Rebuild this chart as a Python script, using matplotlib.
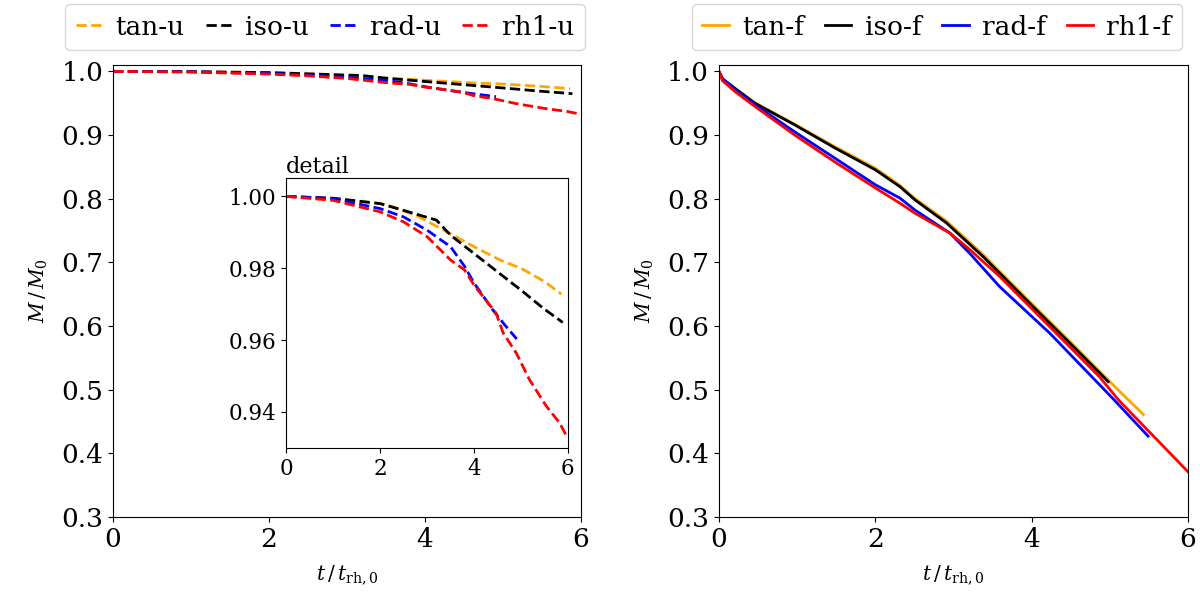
import matplotlib
matplotlib.use('Agg')
import matplotlib.pyplot as plt
import numpy as np

plt.rcParams['font.family'] = 'serif'
plt.rcParams['font.serif'] = ['DejaVu Serif']
plt.rcParams['mathtext.fontset'] = 'dejavuserif'

# unbound (u) runs
tan_u_t = [0, 1, 2, 2.3, 2.8, 3.3, 4, 4.6, 5, 5.5, 5.86]
tan_u_m = [1.0, 0.9994, 0.998, 0.997, 0.9945, 0.991, 0.986, 0.982, 0.980, 0.9763, 0.9728]
iso_u_t = [0, 1, 2, 2.5, 3.2, 3.5, 4, 4.5, 5.04, 5.47, 5.89]
iso_u_m = [1.0, 0.9995, 0.998, 0.9961, 0.9934, 0.9892, 0.9841, 0.979, 0.9735, 0.9689, 0.9649]
rad_u_t = [0, 1, 2, 2.5, 3, 3.5, 3.8, 4, 4.4, 4.65, 4.91]
rad_u_m = [1.0, 0.9994, 0.9966, 0.9943, 0.9906, 0.986, 0.9805, 0.9759, 0.9684, 0.9643, 0.9603]
rh1_u_t = [0, 1, 2, 2.5, 3, 3.5, 3.8, 4, 4.47, 4.62, 4.9, 5.18, 5.54, 5.82, 5.97]
rh1_u_m = [1.0, 0.9989, 0.9957, 0.9929, 0.9888, 0.9823, 0.9795, 0.9753, 0.9675, 0.962, 0.9564, 0.949, 0.9416, 0.937, 0.9333]

# field (f) runs
tan_f_t = [0, 0.05, 0.2, 0.46, 0.97, 1.48, 2.0, 2.315, 2.51, 2.91, 3.38, 4.02, 4.53, 4.98, 5.22, 5.43]
tan_f_m = [1.0, 0.985, 0.973, 0.951, 0.917, 0.882, 0.848, 0.821, 0.800, 0.765, 0.712, 0.633, 0.571, 0.515, 0.486, 0.461]
iso_f_t = [0, 0.05, 0.2, 0.46, 0.97, 1.48, 2.0, 2.315, 2.51, 2.91, 3.38, 4.02, 4.53, 4.98]
iso_f_m = [1.0, 0.988, 0.974, 0.950, 0.916, 0.880, 0.8455, 0.819, 0.798, 0.762, 0.709, 0.630, 0.568, 0.5126]
rad_f_t = [0, 0.05, 0.2, 0.46, 0.97, 1.48, 2.0, 2.315, 2.51, 2.955, 3.21, 3.59, 4.23, 5.04, 5.49]
rad_f_m = [1.0, 0.988, 0.972, 0.948, 0.905, 0.864, 0.822, 0.801, 0.782, 0.746, 0.714, 0.662, 0.589, 0.486, 0.427]
rh1_f_t = [0, 0.05, 0.2, 0.46, 0.97, 1.48, 2.0, 2.315, 2.51, 2.955, 3.21, 3.59, 4.23, 4.87, 5.11, 6.0]
rh1_f_m = [1.0, 0.985, 0.969, 0.945, 0.900, 0.858, 0.817, 0.793, 0.777, 0.746, 0.720, 0.678, 0.599, 0.520, 0.484, 0.371]

colors = ['orange', 'black', 'blue', 'red']
u_runs = [(tan_u_t, tan_u_m, 'tan-u'), (iso_u_t, iso_u_m, 'iso-u'),
          (rad_u_t, rad_u_m, 'rad-u'), (rh1_u_t, rh1_u_m, 'rh1-u')]
f_runs = [(tan_f_t, tan_f_m, 'tan-f'), (iso_f_t, iso_f_m, 'iso-f'),
          (rad_f_t, rad_f_m, 'rad-f'), (rh1_f_t, rh1_f_m, 'rh1-f')]

fig = plt.figure(figsize=(12, 5.94), dpi=100)
ax1 = fig.add_axes([0.0942, 0.1296, 0.39, 0.761])
ax2 = fig.add_axes([0.599, 0.1296, 0.391, 0.761])

for (t, m, lab), c in zip(u_runs, colors):
    ax1.plot(t, m, '--', color=c, lw=2, label=lab)
for (t, m, lab), c in zip(f_runs, colors):
    ax2.plot(t, m, '-', color=c, lw=2, label=lab)

for ax, cx in [(ax1, 0.453), (ax2, 0.465)]:
    ax.set_xlim(0, 6)
    ax.set_ylim(0.3, 1.01)
    ax.set_xticks([0, 2, 4, 6])
    ax.set_yticks([0.3, 0.4, 0.5, 0.6, 0.7, 0.8, 0.9, 1.0])
    ax.tick_params(labelsize=19)
    ax.set_xlabel(r'$t\,/\,t_{\rm rh,0}$', fontsize=14.5, labelpad=8)
    ax.set_ylabel(r'$M\,/\,M_0$', fontsize=14.5, labelpad=8)
    ax.legend(loc='lower center', bbox_to_anchor=(cx, 1.033), ncol=4, fontsize=19,
              handlelength=1.0, handletextpad=0.5, columnspacing=0.8,
              borderaxespad=0.0)

# inset with detail of the unbound runs
axi = ax1.inset_axes([0.37, 0.153, 0.602, 0.596])
for (t, m, lab), c in zip(u_runs, colors):
    axi.plot(t, m, '--', color=c, lw=2)
axi.set_xlim(0, 6)
axi.set_ylim(0.93, 1.005)
axi.set_xticks([0, 2, 4, 6])
axi.set_yticks([0.94, 0.96, 0.98, 1.00])
axi.set_yticklabels(['0.94', '0.96', '0.98', '1.00'])
axi.tick_params(labelsize=15.5)
axi.set_title('detail', loc='left', fontsize=16, pad=2)

fig.savefig('out.png', dpi=100)
